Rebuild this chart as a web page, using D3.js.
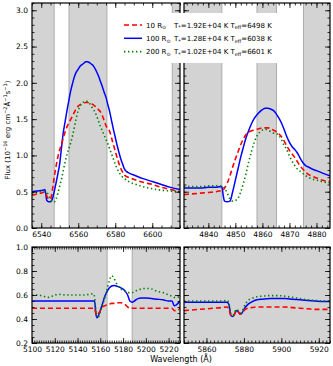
<!DOCTYPE html>
<html>
<head>
<meta charset="utf-8">
<script src="https://cdn.jsdelivr.net/npm/d3@7"></script>
<style>
  body { margin: 0; background: #fff; }
  text { font-family: "DejaVu Sans", sans-serif; fill: #000; }
</style>
</head>
<body>
<div id="chart"></div>
<script>
// H-alpha window
const haWave = [6535, 6538, 6541, 6542, 6543, 6544, 6545, 6546, 6547, 6548, 6549, 6550, 6551, 6552, 6553, 6554, 6555, 6556, 6557, 6558, 6559, 6560, 6561, 6562, 6563, 6564, 6565, 6566, 6567, 6568, 6569, 6570, 6571, 6572, 6573, 6574, 6575, 6576, 6577, 6578, 6579, 6580, 6581, 6582, 6583, 6584, 6585, 6586, 6588, 6590, 6595, 6600, 6605, 6610, 6615];
const haR10 = [0.45, 0.47, 0.49, 0.50, 0.44, 0.40, 0.40, 0.52, 0.70, 0.85, 0.98, 1.08, 1.16, 1.25, 1.33, 1.40, 1.45, 1.50, 1.55, 1.60, 1.65, 1.68, 1.70, 1.71, 1.72, 1.73, 1.73, 1.72, 1.71, 1.70, 1.68, 1.66, 1.63, 1.60, 1.55, 1.48, 1.41, 1.37, 1.33, 1.24, 1.15, 1.06, 0.97, 0.89, 0.82, 0.77, 0.73, 0.71, 0.69, 0.67, 0.63, 0.60, 0.56, 0.53, 0.50];
const haR100 = [0.50, 0.51, 0.52, 0.53, 0.38, 0.36, 0.36, 0.40, 0.50, 0.62, 0.75, 0.89, 1.12, 1.33, 1.48, 1.63, 1.77, 1.90, 2.00, 2.09, 2.15, 2.19, 2.23, 2.25, 2.27, 2.29, 2.29, 2.28, 2.26, 2.24, 2.20, 2.15, 2.09, 2.02, 1.95, 1.87, 1.80, 1.70, 1.60, 1.48, 1.36, 1.25, 1.14, 1.04, 0.95, 0.88, 0.81, 0.78, 0.75, 0.73, 0.68, 0.64, 0.60, 0.56, 0.53];
const haR200 = [0.47, 0.49, 0.50, 0.50, 0.49, 0.45, 0.40, 0.36, 0.36, 0.40, 0.48, 0.58, 0.68, 0.80, 0.92, 1.02, 1.10, 1.18, 1.28, 1.40, 1.52, 1.62, 1.68, 1.72, 1.74, 1.75, 1.74, 1.72, 1.68, 1.64, 1.60, 1.54, 1.47, 1.40, 1.34, 1.28, 1.22, 1.16, 1.09, 1.02, 0.95, 0.88, 0.82, 0.77, 0.73, 0.70, 0.68, 0.66, 0.63, 0.61, 0.57, 0.54, 0.52, 0.51, 0.50];

// H-beta window
const hbWave = [4831, 4834, 4837, 4840, 4843, 4844, 4845, 4845.5, 4846, 4847, 4848, 4849, 4850, 4851, 4852, 4853, 4854, 4855, 4856, 4857, 4858, 4859, 4860, 4861, 4862, 4863, 4864, 4865, 4866, 4867, 4868, 4869, 4870, 4871, 4872, 4873, 4874, 4875, 4876, 4877, 4878, 4880, 4882, 4885];
const hbR10 = [0.46, 0.47, 0.48, 0.49, 0.50, 0.51, 0.51, 0.52, 0.55, 0.62, 0.72, 0.84, 0.95, 1.05, 1.15, 1.23, 1.29, 1.32, 1.34, 1.35, 1.36, 1.37, 1.38, 1.38, 1.38, 1.37, 1.35, 1.33, 1.30, 1.26, 1.20, 1.13, 1.07, 1.02, 0.97, 0.91, 0.85, 0.81, 0.77, 0.74, 0.72, 0.69, 0.66, 0.64];
const hbR100 = [0.55, 0.55, 0.55, 0.56, 0.56, 0.57, 0.57, 0.45, 0.37, 0.36, 0.37, 0.50, 0.66, 0.82, 0.98, 1.12, 1.25, 1.35, 1.44, 1.51, 1.56, 1.60, 1.63, 1.65, 1.65, 1.64, 1.62, 1.58, 1.52, 1.45, 1.36, 1.26, 1.18, 1.12, 1.08, 1.03, 0.96, 0.90, 0.86, 0.84, 0.82, 0.79, 0.76, 0.72];
const hbR200 = [0.57, 0.57, 0.57, 0.58, 0.58, 0.58, 0.58, 0.57, 0.55, 0.48, 0.40, 0.37, 0.38, 0.41, 0.50, 0.62, 0.76, 0.92, 1.06, 1.18, 1.27, 1.32, 1.35, 1.36, 1.35, 1.33, 1.31, 1.30, 1.28, 1.22, 1.14, 1.08, 0.99, 0.92, 0.86, 0.81, 0.78, 0.75, 0.72, 0.70, 0.68, 0.66, 0.64, 0.62];

// Fe II 5169 window
const feWave = [5100, 5105, 5110, 5115, 5120, 5125, 5130, 5135, 5140, 5145, 5150, 5154, 5155, 5156, 5157, 5158, 5160, 5162, 5164, 5166, 5168, 5170, 5172, 5174, 5176, 5178, 5180, 5182, 5184, 5186, 5188, 5190, 5193, 5196, 5200, 5205, 5210, 5215, 5220, 5223, 5225, 5227, 5230];
const feR10 = [0.49, 0.49, 0.49, 0.49, 0.49, 0.49, 0.49, 0.49, 0.49, 0.49, 0.49, 0.49, 0.49, 0.45, 0.43, 0.44, 0.47, 0.50, 0.51, 0.52, 0.525, 0.53, 0.53, 0.535, 0.535, 0.535, 0.53, 0.52, 0.50, 0.49, 0.49, 0.49, 0.49, 0.49, 0.49, 0.49, 0.49, 0.49, 0.49, 0.49, 0.47, 0.47, 0.49];
const feR100 = [0.55, 0.55, 0.55, 0.55, 0.55, 0.55, 0.55, 0.55, 0.55, 0.55, 0.55, 0.55, 0.55, 0.45, 0.41, 0.42, 0.47, 0.53, 0.59, 0.63, 0.66, 0.675, 0.68, 0.675, 0.67, 0.66, 0.65, 0.63, 0.60, 0.55, 0.54, 0.55, 0.57, 0.575, 0.575, 0.57, 0.565, 0.56, 0.55, 0.55, 0.51, 0.52, 0.55];
const feR200 = [0.60, 0.60, 0.59, 0.58, 0.60, 0.605, 0.60, 0.60, 0.60, 0.60, 0.605, 0.61, 0.58, 0.48, 0.42, 0.41, 0.46, 0.52, 0.58, 0.65, 0.72, 0.76, 0.74, 0.70, 0.67, 0.65, 0.64, 0.63, 0.62, 0.62, 0.62, 0.63, 0.64, 0.65, 0.655, 0.65, 0.63, 0.62, 0.60, 0.59, 0.58, 0.58, 0.59];

// Na I D window
const naWave = [5848, 5852, 5856, 5860, 5864, 5868, 5871, 5872, 5873, 5874, 5875, 5876, 5877, 5878, 5879, 5880, 5882, 5884, 5887, 5890, 5894, 5898, 5902, 5906, 5910, 5914, 5918, 5922, 5926];
const naR10 = [0.47, 0.475, 0.48, 0.485, 0.49, 0.495, 0.50, 0.48, 0.43, 0.42, 0.44, 0.47, 0.46, 0.44, 0.45, 0.47, 0.49, 0.495, 0.50, 0.50, 0.50, 0.50, 0.50, 0.495, 0.49, 0.485, 0.48, 0.48, 0.48];
const naR100 = [0.54, 0.54, 0.54, 0.54, 0.54, 0.54, 0.54, 0.52, 0.43, 0.42, 0.44, 0.47, 0.46, 0.44, 0.45, 0.48, 0.52, 0.54, 0.56, 0.565, 0.57, 0.57, 0.57, 0.565, 0.56, 0.555, 0.55, 0.545, 0.545];
const naR200 = [0.55, 0.55, 0.55, 0.55, 0.55, 0.55, 0.555, 0.53, 0.45, 0.43, 0.45, 0.48, 0.47, 0.45, 0.46, 0.50, 0.55, 0.57, 0.585, 0.59, 0.595, 0.595, 0.59, 0.58, 0.57, 0.56, 0.555, 0.55, 0.55];

// shaded wavelength ranges
const haShade = [[6535, 6547], [6555, 6575.5], [6610.8, 6615]];
const hbShade = [[4831, 4845], [4858, 4865.2], [4875.2, 4885]];
const feShade = [[5100, 5166], [5188, 5230]];
const naShade = [[5848, 5926]];

const seriesNames = ['10', '100', '200'];
const starTemps = ['1.92E+04', '1.28E+04', '1.02E+04'];
const effTemps = ['6498', '6038', '6601'];

const styles = [
  { color: '#ff0000', dash: '5,3', width: 1.6 },
  { color: '#0000ff', dash: null, width: 1.5 },
  { color: '#008000', dash: '1.4,2.6', width: 1.6 }
];

const svg = d3.select('#chart').append('svg')
  .attr('width', 333)
  .attr('height', 366);

const panels = [
  { x0: 32, x1: 180, y0: 3, y1: 228, xd: [6535, 6615], yd: [0, 3.1], wave: haWave, ser: [haR10, haR100, haR200], shade: haShade,
    xMajor: d3.range(6540, 6615, 20), xMinor: d3.range(6535, 6616, 5), yMajor: d3.range(0, 3.01, 0.5), yMinor: d3.range(0, 3.11, 0.1), yLabels: true },
  { x0: 184, x1: 330, y0: 3, y1: 228, xd: [4831, 4885], yd: [0, 3.1], wave: hbWave, ser: [hbR10, hbR100, hbR200], shade: hbShade,
    xMajor: d3.range(4840, 4885, 10), xMinor: d3.range(4832, 4885, 2), yMajor: d3.range(0, 3.01, 0.5), yMinor: d3.range(0, 3.11, 0.1), yLabels: false },
  { x0: 32, x1: 180, y0: 247, y1: 343, xd: [5100, 5230], yd: [0.2, 1.0], wave: feWave, ser: [feR10, feR100, feR200], shade: feShade,
    xMajor: d3.range(5100, 5230, 20), xMinor: d3.range(5100, 5231, 2), yMajor: d3.range(0.2, 1.01, 0.2), yMinor: d3.range(0.2, 1.01, 0.05), yLabels: true },
  { x0: 184, x1: 330, y0: 247, y1: 343, xd: [5848, 5926], yd: [0.2, 1.0], wave: naWave, ser: [naR10, naR100, naR200], shade: naShade,
    xMajor: d3.range(5860, 5926, 20), xMinor: d3.range(5848, 5927, 2), yMajor: d3.range(0.2, 1.01, 0.2), yMinor: d3.range(0.2, 1.01, 0.05), yLabels: false }
];

panels.forEach((p, pi) => {
  const xScale = d3.scaleLinear().domain(p.xd).range([p.x0, p.x1]);
  const yScale = d3.scaleLinear().domain(p.yd).range([p.y1, p.y0]);
  const g = svg.append('g');
  const clipId = 'clip' + pi;
  svg.append('clipPath').attr('id', clipId).append('rect')
    .attr('x', p.x0).attr('y', p.y0).attr('width', p.x1 - p.x0).attr('height', p.y1 - p.y0);

  // shaded bands
  g.selectAll('rect.band').data(p.shade).enter().append('rect')
    .attr('class', 'band')
    .attr('x', d => xScale(d[0]))
    .attr('width', d => xScale(d[1]) - xScale(d[0]))
    .attr('y', p.y0).attr('height', p.y1 - p.y0)
    .attr('fill', '#d3d3d3');
  g.selectAll('line.bandedge').data(p.shade.flat().filter(v => v > p.xd[0] && v < p.xd[1])).enter().append('line')
    .attr('x1', d => xScale(d)).attr('x2', d => xScale(d))
    .attr('y1', p.y0).attr('y2', p.y1)
    .attr('stroke', '#ababab').attr('stroke-width', 1);

  // spectra
  const line = d3.line()
    .x((d, i) => xScale(p.wave[i]))
    .y(d => yScale(d))
    .curve(d3.curveMonotoneX);
  const lines = g.append('g').attr('clip-path', `url(#${clipId})`);
  [1, 0, 2].forEach(k => {
    lines.append('path')
      .datum(p.ser[k])
      .attr('d', line)
      .attr('fill', 'none')
      .attr('stroke', styles[k].color)
      .attr('stroke-width', styles[k].width)
      .attr('stroke-dasharray', styles[k].dash);
  });

  // ticks on all four sides, pointing inward
  const addAxis = (axis, tx, ty) => {
    const a = g.append('g').attr('transform', `translate(${tx},${ty})`).call(axis);
    a.select('.domain').remove();
    a.selectAll('line').attr('stroke', '#000').attr('stroke-width', 0.8);
    a.selectAll('text').style('font-family', '"DejaVu Sans", sans-serif').style('font-size', '7.5px');
    return a;
  };
  const fmtX = d3.format('d');
  const fmtY = d3.format('.1f');
  addAxis(d3.axisBottom(xScale).tickValues(p.xMinor).tickSize(-2.5).tickFormat(''), 0, p.y1);
  addAxis(d3.axisBottom(xScale).tickValues(p.xMajor).tickSize(-5).tickPadding(3.2).tickFormat(fmtX), 0, p.y1);
  addAxis(d3.axisTop(xScale).tickValues(p.xMinor).tickSize(-2.5).tickFormat(''), 0, p.y0);
  addAxis(d3.axisTop(xScale).tickValues(p.xMajor).tickSize(-5).tickFormat(''), 0, p.y0);
  addAxis(d3.axisLeft(yScale).tickValues(p.yMinor).tickSize(-2.5).tickFormat(''), p.x0, 0);
  addAxis(d3.axisLeft(yScale).tickValues(p.yMajor).tickSize(-5).tickPadding(4)
    .tickFormat(p.yLabels ? fmtY : ''), p.x0, 0);
  addAxis(d3.axisRight(yScale).tickValues(p.yMinor).tickSize(-2.5).tickFormat(''), p.x1, 0);
  addAxis(d3.axisRight(yScale).tickValues(p.yMajor).tickSize(-5).tickFormat(''), p.x1, 0);

  g.append('rect')
    .attr('x', p.x0).attr('y', p.y0)
    .attr('width', p.x1 - p.x0).attr('height', p.y1 - p.y0)
    .attr('fill', 'none').attr('stroke', '#000').attr('stroke-width', 1.2);
});

// legend, drawn over both upper panels
const leg = svg.append('g');
leg.append('rect').attr('x', 113).attr('y', 13).attr('width', 167).attr('height', 50).attr('fill', '#fff');
seriesNames.forEach((name, i) => {
  const y = 25 + i * 13.3;
  leg.append('line')
    .attr('x1', 124).attr('x2', 142).attr('y1', y).attr('y2', y)
    .attr('stroke', styles[i].color)
    .attr('stroke-width', styles[i].width)
    .attr('stroke-dasharray', styles[i].dash);
  const t = leg.append('text').attr('x', 146).attr('y', y + 2.5).style('font-size', '7px');
  t.append('tspan').text(name + ' R');
  t.append('tspan').attr('dy', 1.8).style('font-size', '5px').text('\u2299');
  const t2 = leg.append('text').attr('x', 174).attr('y', y + 2.5).style('font-size', '7px');
  t2.append('tspan').text('T');
  t2.append('tspan').attr('dy', 1.8).style('font-size', '5px').text('*');
  t2.append('tspan').attr('dy', -1.8).text('=' + starTemps[i] + ' K  T');
  t2.append('tspan').attr('dy', 1.8).style('font-size', '5px').text('eff');
  t2.append('tspan').attr('dy', -1.8).text('=' + effTemps[i] + ' K');
});

// axis titles
svg.append('text')
  .attr('x', 181).attr('y', 362)
  .attr('text-anchor', 'middle')
  .style('font-size', '8px')
  .text('Wavelength (\u00c5)');

const yl = svg.append('text')
  .attr('transform', 'translate(10,130) rotate(-90)')
  .attr('text-anchor', 'middle')
  .style('font-size', '7px');
yl.append('tspan').text('Flux (10');
yl.append('tspan').attr('dy', -2.6).style('font-size', '5px').text('\u221216');
yl.append('tspan').attr('dy', 2.6).text(' erg cm');
yl.append('tspan').attr('dy', -2.6).style('font-size', '5px').text('\u22122');
yl.append('tspan').attr('dy', 2.6).text('\u00c5');
yl.append('tspan').attr('dy', -2.6).style('font-size', '5px').text('\u22121');
yl.append('tspan').attr('dy', 2.6).text('s');
yl.append('tspan').attr('dy', -2.6).style('font-size', '5px').text('\u22121');
yl.append('tspan').attr('dy', 2.6).text(')');
</script>
</body>
</html>
